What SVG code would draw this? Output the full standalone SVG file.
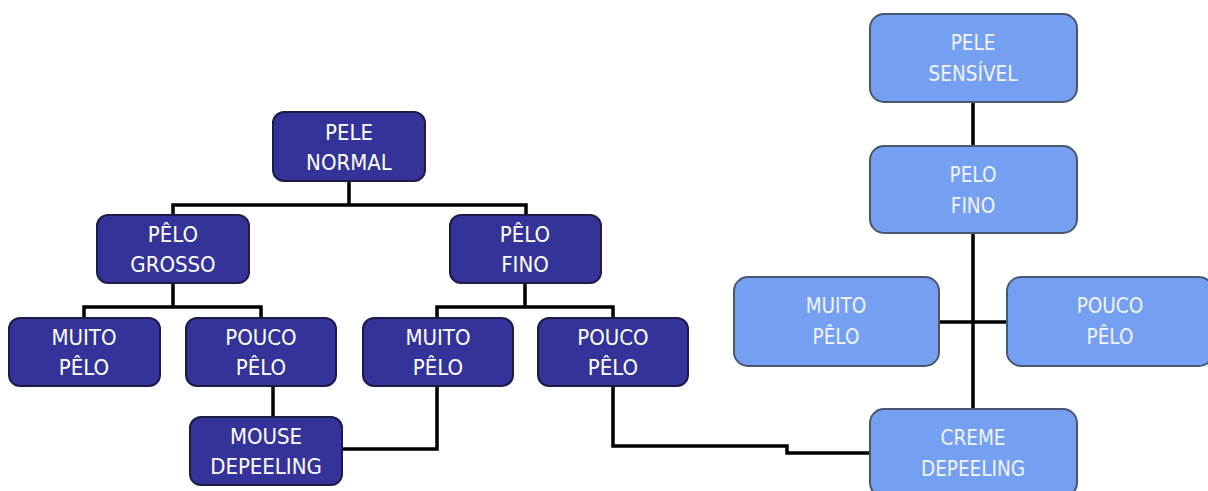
<svg xmlns="http://www.w3.org/2000/svg" width="1208" height="491" viewBox="0 0 1208 491">
<style>
.dk{fill:#333399;stroke:#1c1c44;stroke-width:2}
.lt{fill:#75a0f2;stroke:#4a5570;stroke-width:2}
.t{font-family:"DejaVu Sans Condensed","Liberation Sans Narrow","DejaVu Sans",sans-serif;text-anchor:middle}
.td{fill:#ffffff;font-size:22px}
.tl{fill:#f2f5ff;font-size:20.5px}
.c{fill:none;stroke:#000;stroke-width:3.5;stroke-linejoin:miter}
</style>
<rect width="1208" height="491" fill="#ffffff"/>
<g id="connectors">
<path class="c" d="M349 181V205M173 215V205H526V215"/>
<path class="c" d="M173 283V307M84 318V307H261V318"/>
<path class="c" d="M525 283V307M437 318V307H613V318"/>
<path class="c" d="M273 386V417"/>
<path class="c" d="M437 386V449H342"/>
<path class="c" d="M613 386V446H787V453H870"/>
<path class="c" d="M973 102V146"/>
<path class="c" d="M973 233V409"/>
<path class="c" d="M939 322H1007"/>
</g>
<g id="pele-normal"><rect class="dk" x="273" y="112" width="152" height="69" rx="11"/><text class="t td" x="349" y="140">PELE</text><text class="t td" x="349" y="170">NORMAL</text></g>
<g id="pelo-grosso"><rect class="dk" x="97" y="215" width="152" height="68" rx="11"/><text class="t td" x="173" y="242">PÊLO</text><text class="t td" x="173" y="272">GROSSO</text></g>
<g id="pelo-fino-l"><rect class="dk" x="450" y="215" width="151" height="68" rx="11"/><text class="t td" x="525" y="242">PÊLO</text><text class="t td" x="525" y="272">FINO</text></g>
<g id="muito-pelo-1"><rect class="dk" x="9" y="318" width="151" height="68" rx="11"/><text class="t td" x="84" y="345">MUITO</text><text class="t td" x="84" y="375">PÊLO</text></g>
<g id="pouco-pelo-1"><rect class="dk" x="186" y="318" width="150" height="68" rx="11"/><text class="t td" x="261" y="345">POUCO</text><text class="t td" x="261" y="375">PÊLO</text></g>
<g id="muito-pelo-2"><rect class="dk" x="363" y="318" width="150" height="68" rx="11"/><text class="t td" x="438" y="345">MUITO</text><text class="t td" x="438" y="375">PÊLO</text></g>
<g id="pouco-pelo-2"><rect class="dk" x="538" y="318" width="150" height="68" rx="11"/><text class="t td" x="613" y="345">POUCO</text><text class="t td" x="613" y="375">PÊLO</text></g>
<g id="mouse-depeeling"><rect class="dk" x="190" y="417" width="152" height="68" rx="11"/><text class="t td" x="266" y="444">MOUSE</text><text class="t td" x="266" y="474">DEPEELING</text></g>
<g id="pele-sensivel"><rect class="lt" x="870" y="14" width="207" height="88" rx="14"/><text class="t tl" x="973" y="50">PELE</text><text class="t tl" x="973" y="81">SENSÍVEL</text></g>
<g id="pelo-fino-r"><rect class="lt" x="870" y="146" width="207" height="87" rx="14"/><text class="t tl" x="973" y="182">PELO</text><text class="t tl" x="973" y="213">FINO</text></g>
<g id="muito-pelo-r"><rect class="lt" x="734" y="277" width="205" height="89" rx="14"/><text class="t tl" x="836" y="313">MUITO</text><text class="t tl" x="836" y="344">PÊLO</text></g>
<g id="pouco-pelo-r"><rect class="lt" x="1007" y="277" width="206" height="89" rx="14"/><text class="t tl" x="1110" y="313">POUCO</text><text class="t tl" x="1110" y="344">PÊLO</text></g>
<g id="creme-depeeling"><rect class="lt" x="870" y="409" width="207" height="88" rx="14"/><text class="t tl" x="973" y="445">CREME</text><text class="t tl" x="973" y="476">DEPEELING</text></g>
</svg>
